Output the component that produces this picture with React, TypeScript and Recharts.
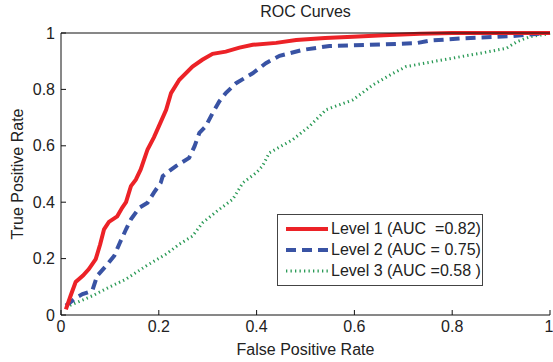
import React from 'react';
import { LineChart, Line, XAxis, YAxis, Legend } from 'recharts';

// values
const level1Fpr = [0.01, 0.02, 0.03, 0.045, 0.057, 0.071, 0.08, 0.088, 0.098, 0.115, 0.125, 0.133, 0.143, 0.153, 0.163, 0.177, 0.19, 0.2, 0.215, 0.225, 0.242, 0.269, 0.289, 0.31, 0.337, 0.365, 0.392, 0.44, 0.481, 0.54, 0.597, 0.66, 0.734, 0.8, 1];
const level1Tpr = [0.02, 0.07, 0.117, 0.14, 0.163, 0.198, 0.25, 0.304, 0.33, 0.35, 0.38, 0.4, 0.457, 0.48, 0.516, 0.587, 0.63, 0.669, 0.728, 0.787, 0.834, 0.881, 0.905, 0.926, 0.934, 0.948, 0.958, 0.965, 0.975, 0.982, 0.987, 0.992, 0.997, 1, 1];

const level2Fpr = [0.01, 0.03, 0.044, 0.064, 0.074, 0.092, 0.109, 0.119, 0.133, 0.143, 0.16, 0.177, 0.19, 0.204, 0.208, 0.221, 0.235, 0.262, 0.273, 0.283, 0.296, 0.31, 0.324, 0.337, 0.358, 0.392, 0.419, 0.447, 0.494, 0.549, 0.631, 0.727, 0.754, 0.822, 0.924, 0.993, 1];
const level2Tpr = [0.033, 0.06, 0.074, 0.086, 0.139, 0.174, 0.21, 0.251, 0.304, 0.339, 0.38, 0.398, 0.434, 0.469, 0.492, 0.51, 0.528, 0.557, 0.598, 0.646, 0.669, 0.716, 0.758, 0.787, 0.822, 0.857, 0.893, 0.919, 0.94, 0.954, 0.958, 0.964, 0.973, 0.981, 0.989, 1, 1];

const level3Fpr = [0.01, 0.064, 0.1, 0.133, 0.174, 0.215, 0.242, 0.269, 0.29, 0.324, 0.351, 0.372, 0.399, 0.412, 0.426, 0.474, 0.508, 0.542, 0.597, 0.638, 0.679, 0.706, 0.788, 0.857, 0.911, 0.932, 0.959, 0.993, 1];
const level3Tpr = [0.028, 0.068, 0.1, 0.127, 0.174, 0.216, 0.251, 0.28, 0.328, 0.375, 0.41, 0.469, 0.504, 0.528, 0.575, 0.622, 0.669, 0.728, 0.763, 0.816, 0.857, 0.881, 0.907, 0.928, 0.946, 0.969, 0.987, 0.996, 1];

const seriesNames = ['Level 1 (AUC  =0.82)', 'Level 2 (AUC = 0.75)', 'Level 3 (AUC =0.58 )'];
const axisTicks = [0, 0.2, 0.4, 0.6, 0.8, 1];

const toPoints = (fpr: number[], tpr: number[]) => fpr.map((x, i) => ({ x, y: tpr[i] }));

const styles = [
  { color: '#ec2227', width: 4, dash: undefined as string | undefined },
  { color: '#3953a4', width: 4, dash: '10 6' },
  { color: '#2a9a56', width: 3, dash: '1.3 3.2' },
];

const font = 'Arial, "Liberation Sans", Helvetica, sans-serif';

const RocLegend = () => (
  <div style={{ border: '1px solid #444', background: '#fff', padding: '3px 0 4px 7px', fontFamily: font, fontSize: 16, color: '#222' }}>
    {seriesNames.map((name, i) => (
      <div key={i} style={{ display: 'flex', alignItems: 'center', height: 21, whiteSpace: 'pre' }}>
        <svg width={44} height={10} style={{ marginRight: 2 }}>
          <line x1={1} y1={5} x2={43} y2={5} stroke={styles[i].color} strokeWidth={styles[i].width} strokeDasharray={styles[i].dash} />
        </svg>
        <span>{name}</span>
      </div>
    ))}
  </div>
);

export default function App() {
  const tickStyle = { fill: '#222', fontSize: 16, fontFamily: font };
  return (
    <div style={{ position: 'absolute', left: 0, top: 0, background: '#fff' }}>
      <LineChart width={553} height={362} margin={{ top: 19, right: 3, bottom: 0, left: 0 }}>
        <XAxis
          type="number"
          dataKey="x"
          domain={[0, 1]}
          ticks={axisTicks}
          height={47}
          stroke="#111"
          tickSize={-5}
          tickMargin={11}
          tick={tickStyle}
          label={{ value: 'False Positive Rate', position: 'insideBottom', offset: 7, fill: '#222', style: { fontSize: 16, fontFamily: font } }}
        />
        <XAxis
          xAxisId="top"
          orientation="top"
          type="number"
          dataKey="x"
          domain={[0, 1]}
          ticks={axisTicks}
          height={14}
          stroke="#111"
          tickSize={-5}
          tick={false}
          label={{ value: 'ROC Curves', position: 'top', offset: 2, fill: '#222', style: { fontSize: 16, fontFamily: font } }}
        />
        <YAxis
          type="number"
          domain={[0, 1]}
          ticks={axisTicks}
          width={61}
          stroke="#111"
          tickSize={-5}
          tickMargin={11}
          tick={tickStyle}
          label={{ value: 'True Positive Rate', angle: -90, position: 'insideLeft', offset: 17, fill: '#222', style: { textAnchor: 'middle', fontSize: 16, fontFamily: font } }}
        />
        <YAxis
          yAxisId="right"
          orientation="right"
          type="number"
          domain={[0, 1]}
          ticks={axisTicks}
          width={0}
          stroke="#111"
          tickSize={-5}
          tick={false}
        />
        <Legend
          layout="vertical"
          verticalAlign="middle"
          align="center"
          content={() => <RocLegend />}
          wrapperStyle={{ left: 277, top: 214, width: 206 }}
        />
        <Line data={toPoints(level3Fpr, level3Tpr)} dataKey="y" name={seriesNames[2]} stroke={styles[2].color} strokeWidth={styles[2].width} strokeDasharray={styles[2].dash} dot={false} isAnimationActive={false} />
        <Line data={toPoints(level2Fpr, level2Tpr)} dataKey="y" name={seriesNames[1]} stroke={styles[1].color} strokeWidth={styles[1].width} strokeDasharray={styles[1].dash} dot={false} isAnimationActive={false} />
        <Line data={toPoints(level1Fpr, level1Tpr)} dataKey="y" name={seriesNames[0]} stroke={styles[0].color} strokeWidth={styles[0].width} dot={false} isAnimationActive={false} />
      </LineChart>
    </div>
  );
}
